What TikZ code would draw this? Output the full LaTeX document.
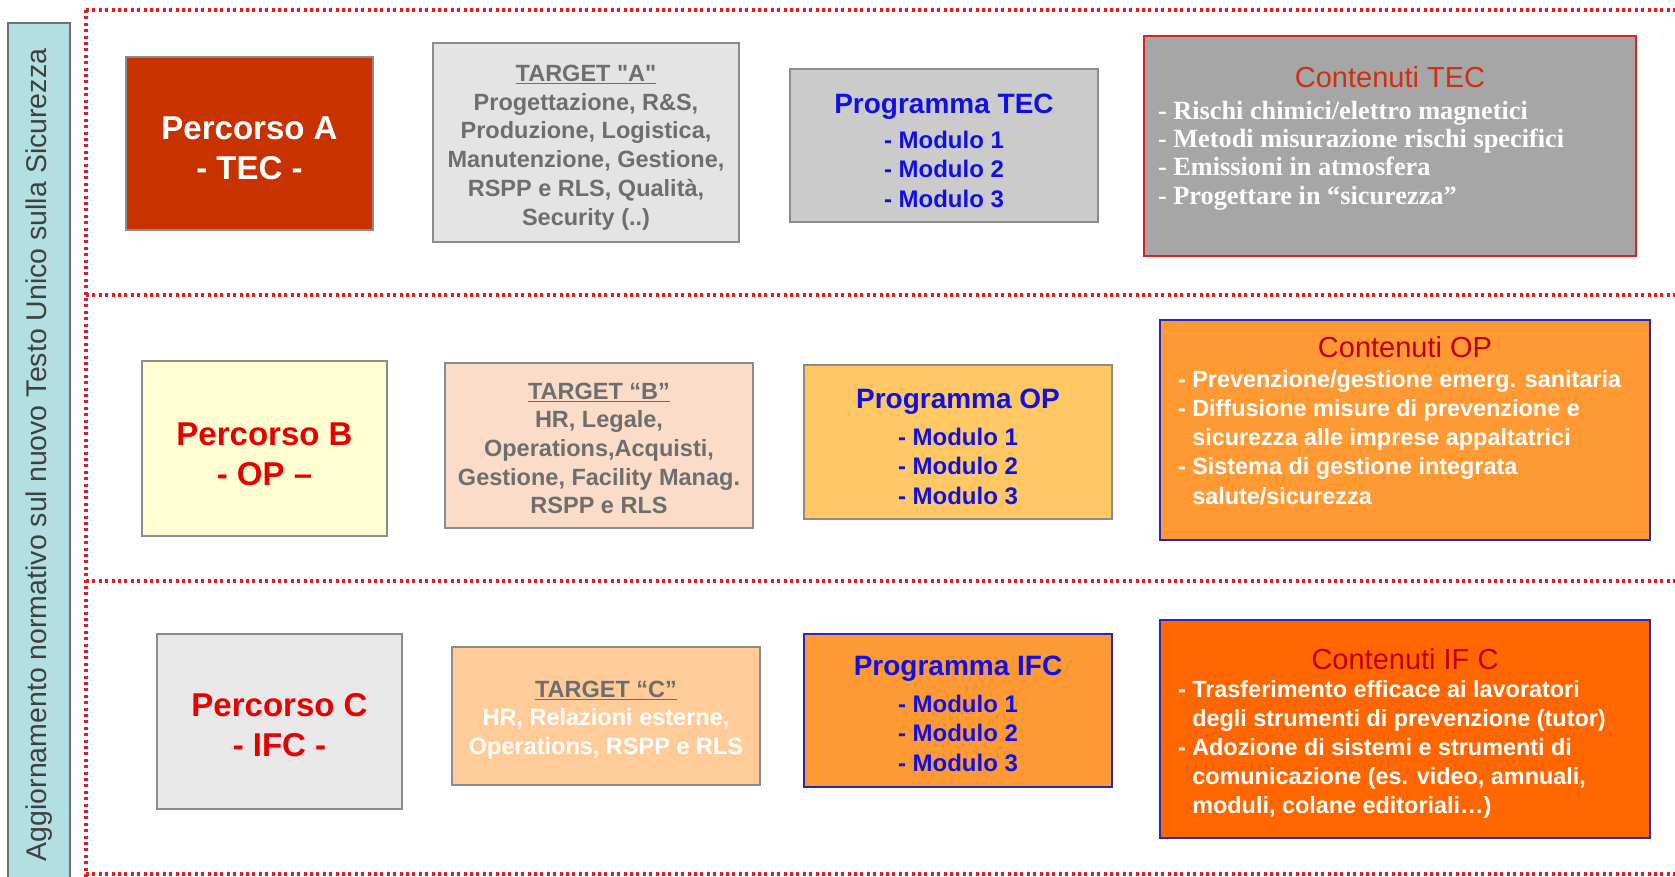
\documentclass[tikz,border=0pt]{standalone}
\usepackage{fontspec}
\setmainfont{Liberation Sans}
\newfontfamily\serifface{Liberation Serif}
\newfontfamily\qface{Liberation Sans}
\definecolor{barfill}{HTML}{B2E0E2}
\definecolor{bargray}{HTML}{707070}
\definecolor{boxgray}{HTML}{8C8C8C}
\definecolor{redline}{HTML}{E02020}
\definecolor{pAfill}{HTML}{C83200}
\definecolor{tAfill}{HTML}{E4E4E4}
\definecolor{prTfill}{HTML}{CBCBCB}
\definecolor{cTfill}{HTML}{A6A6A6}
\definecolor{cTborder}{HTML}{E02020}
\definecolor{cTtitle}{HTML}{D03010}
\definecolor{pBfill}{HTML}{FFFFD2}
\definecolor{tBfill}{HTML}{FADCC8}
\definecolor{prOfill}{HTML}{FFC864}
\definecolor{cOfill}{HTML}{FF9933}
\definecolor{pCfill}{HTML}{E8E8E8}
\definecolor{tCfill}{HTML}{FFCC99}
\definecolor{prIfill}{HTML}{FF9933}
\definecolor{cIfill}{HTML}{FF6600}
\definecolor{blueborder}{HTML}{2828B4}
\definecolor{darkred}{HTML}{C00000}
\definecolor{progblue}{HTML}{1010E6}
\definecolor{graytext}{HTML}{6E6E6E}
\definecolor{pathred}{HTML}{E60000}
\newcommand\fsz[2]{\fontsize{#1}{#2}\selectfont}
\newcommand\sq{{\qface"}}
\tikzset{
  box/.style={draw=boxgray, line width=2pt, inner sep=0pt, outer sep=0pt},
  bluebox/.style={draw=blueborder, line width=2pt, inner sep=0pt, outer sep=0pt},
  txt/.style={inner sep=0pt, outer sep=0pt, align=center},
  lefttxt/.style={inner sep=0pt, outer sep=0pt, align=left, anchor=west},
  frameline/.style={draw=redline, line width=3.2pt, dash pattern=on 3pt off 3.4pt},
  percorso/.style={txt, font=\fsz{33}{40}\bfseries},
  target/.style={txt, font=\fsz{23.5}{28.7}\bfseries},
  progtitle/.style={txt, text=progblue, font=\fsz{28}{33}\bfseries},
  modules/.style={txt, text=progblue, font=\fsz{24}{29.5}\bfseries},
  conttitle/.style={txt, font=\fsz{29}{34}},
  contsans/.style={lefttxt, text=white, font=\fsz{23.4}{29.2}\bfseries},
}
\begin{document}
\begin{tikzpicture}[x=1pt,y=-1pt]
\clip (0,0) rectangle (1675,877);
\fill[white] (0,0) rectangle (1675,877);

% left vertical bar
\node[draw=bargray, line width=2pt, fill=barfill, minimum width=62pt, minimum height=860pt, inner sep=0pt] (bar) at (39,453) {};
\node[txt, rotate=90, text=darkgray, font=\fsz{28.5}{34}] (bartext) at (39,455) {Aggiornamento normativo sul nuovo Testo Unico sulla Sicurezza};

% red dotted frame
\coordinate (ftl) at (86,10);
\coordinate (ftr) at (1680,10);
\coordinate (fbl) at (86,880);
\coordinate (s1l) at (86,295);
\coordinate (s1r) at (1680,295);
\coordinate (s2l) at (86,581);
\coordinate (s2r) at (1680,581);
\coordinate (fbl2) at (86,874);
\coordinate (fbr) at (1680,874);
\draw[frameline] (ftl) -- (ftr);
\draw[frameline] (ftl) -- (fbl);
\draw[frameline] (s1l) -- (s1r);
\draw[frameline] (s2l) -- (s2r);
\draw[frameline] (fbl2) -- (fbr);

% ---------- Row A ----------
\node[box, fill=pAfill, minimum width=247pt, minimum height=173pt] (pA) at (249.5,143.5) {};
\node[percorso, text=white] (pAt) at (249.5,148) {Percorso A\\- TEC -};

\node[box, fill=tAfill, minimum width=306pt, minimum height=199pt] (tA) at (586,142.5) {};
\node[target, text=graytext] (tAt) at (586,147.5) {\underline{TARGET \sq A\sq}\\Progettazione, R\&S,\\Produzione, Logistica,\\Manutenzione, Gestione,\\RSPP e RLS, Qualità,\\Security (..)};

\node[box, fill=prTfill, minimum width=308pt, minimum height=153pt] (prT) at (944,145.5) {};
\node[progtitle] (prTt) at (944,107) {Programma TEC};
\node[modules] (prTm) at (944,169) {- Modulo 1\\- Modulo 2\\- Modulo 3};

\node[draw=cTborder, line width=2pt, inner sep=0pt, outer sep=0pt, fill=cTfill, minimum width=492pt, minimum height=220pt] (cT) at (1390,146) {};
\node[conttitle, text=cTtitle] (cTt) at (1390,77) {Contenuti TEC};
\node[lefttxt, text=white, font=\serifface\fsz{26.3}{28.4}\bfseries] (cTb) at (1158,155.5) {- Rischi chimici/elettro magnetici\\- Metodi misurazione rischi specifici\\- Emissioni in atmosfera\\- Progettare in “sicurezza”};

% ---------- Row B ----------
\node[box, fill=pBfill, minimum width=245pt, minimum height=175pt] (pB) at (264.5,448.5) {};
\node[percorso, text=pathred] (pBt) at (264.5,454) {Percorso B\\- OP –};

\node[box, fill=tBfill, minimum width=308pt, minimum height=165pt] (tB) at (599,445.5) {};
\node[target, text=graytext] (tBt) at (599,448.5) {\underline{TARGET “B”}\\HR, Legale,\\Operations,Acquisti,\\Gestione, Facility Manag.\\RSPP e RLS};

\node[box, fill=prOfill, minimum width=308pt, minimum height=154pt] (prO) at (958,442) {};
\node[progtitle] (prOt) at (958,402) {Programma OP};
\node[modules] (prOm) at (958,466) {- Modulo 1\\- Modulo 2\\- Modulo 3};

\node[bluebox, fill=cOfill, minimum width=490pt, minimum height=220pt] (cO) at (1405,430) {};
\node[conttitle, text=darkred] (cOt) at (1405,347) {Contenuti OP};
\node[contsans] (cOb) at (1178,437.5) {- Prevenzione/gestione emerg. sanitaria\\- Diffusione misure di prevenzione e\\\phantom{- }sicurezza alle imprese appaltatrici\\- Sistema di gestione integrata\\\phantom{- }salute/sicurezza};

% ---------- Row C ----------
\node[box, fill=pCfill, minimum width=245pt, minimum height=175pt] (pC) at (279.5,721.5) {};
\node[percorso, text=pathred] (pCt) at (279.5,725) {Percorso C\\- IFC -};

\node[box, fill=tCfill, minimum width=308pt, minimum height=138pt] (tC) at (606,716) {};
\node[target, text=white] (tCt) at (606,720) {\textcolor{graytext}{\underline{TARGET “C”}}\\HR, Relazioni esterne,\\Operations, RSPP e RLS};

\node[bluebox, fill=prIfill, minimum width=308pt, minimum height=153pt] (prI) at (958,710.5) {};
\node[progtitle] (prIt) at (958,669) {Programma IFC};
\node[modules] (prIm) at (958,733) {- Modulo 1\\- Modulo 2\\- Modulo 3};

\node[bluebox, fill=cIfill, minimum width=490pt, minimum height=218pt] (cI) at (1405,729) {};
\node[conttitle, text=darkred] (cIt) at (1405,659) {Contenuti IF C};
\node[contsans] (cIb) at (1178,749.5) {- Trasferimento efficace ai lavoratori\\\phantom{- }degli strumenti di prevenzione (tutor)\\- Adozione di sistemi e strumenti di\\\phantom{- }comunicazione (es. video, amnuali,\\\phantom{- }moduli, colane editoriali…)};
\end{tikzpicture}
\end{document}
